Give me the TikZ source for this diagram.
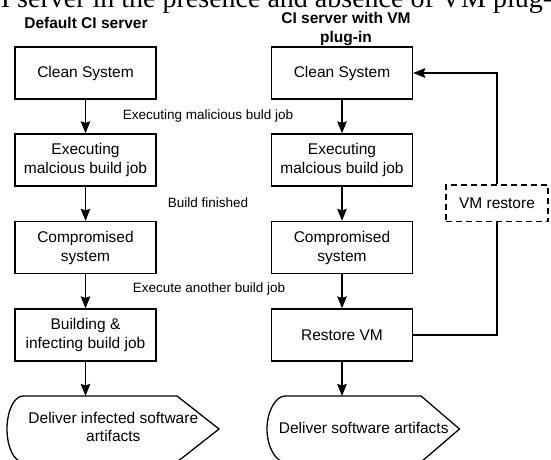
\documentclass[tikz,border=0pt]{standalone}
\usepackage{fontspec}
\setmainfont{Liberation Sans}
\newfontfamily\capfont{Liberation Serif}
\usetikzlibrary{arrows.meta}
\begin{document}
\begin{tikzpicture}[x=1pt,y=-1pt,
  wire/.style={line width=1.4pt},
  arr/.style={wire,-{Stealth[length=12pt,width=9.5pt,inset=1.5pt]}},
  box/.style={draw,line width=1.3pt,minimum width=141pt,minimum height=52pt,
    inner sep=0pt,align=center,font=\fontsize{15.5}{19}\selectfont},
  dbox/.style={box,dash pattern=on 6pt off 4pt,minimum width=102pt,minimum height=36.7pt},
  title/.style={inner sep=0pt,align=center,font=\fontsize{15.5}{19}\selectfont\bfseries},
  edgelabel/.style={inner sep=0pt,font=\fontsize{13.5}{16}\selectfont},
  deliver/.style={draw,line width=1.3pt},
  dtext/.style={inner sep=0pt,align=center,font=\fontsize{15.5}{18.5}\selectfont}]
\useasboundingbox (0,0) rectangle (551,460);
\fill[white] (0,0) rectangle (551,460);
\clip (0,0) rectangle (551,460);

% caption line running off the top edge
\node[anchor=base west,inner sep=0pt,font=\capfont\fontsize{28}{28}\selectfont]
  (cap) at (-18,8) {CI server in the presence and absence of VM plug-in};

% column titles
\node[title] (t1) at (86,22.7) {Default CI server};
\node[title] (t2) at (346,29) {CI server with VM\\plug-in};

% default CI server
\node[box] (l1) at (85.5,73) {Clean System};
\node[box] (l2) at (85.5,160) {Executing\\malcious build job};
\node[box] (l3) at (85.5,247.5) {Compromised\\system};
\node[box] (l4) at (85.5,335) {Building \&\\infecting build job};

% CI server with VM plug-in
\node[box] (r1) at (342,73) {Clean System};
\node[box] (r2) at (342,160) {Executing\\malcious build job};
\node[box] (r3) at (342,247.5) {Compromised\\system};
\node[box] (r4) at (342,335) {Restore VM};
\node[dbox] (vm) at (497,203.3) {VM restore};

% transition labels between the columns
\node[edgelabel] (e1) at (208,115.7) {Executing malicious buld job};
\node[edgelabel] (e2) at (208,202.3) {Build finished};
\node[edgelabel] (e3) at (209,289.3) {Execute another build job};

% display shapes for the delivered artifacts
\path[deliver] (23,396) .. controls (14.2,396) and (7,410.8) .. (7,429)
  .. controls (7,447.2) and (14.2,462) .. (23,462) -- (177,462) -- (219,429)
  -- (177,396) -- cycle;
\path[deliver] (285,396) .. controls (276,396) and (267,410.8) .. (267,429)
  .. controls (267,447.2) and (276,462) .. (285,462) -- (421,462) -- (459.5,429)
  -- (421,396) -- cycle;
\node[dtext] (d1) at (113.3,427) {Deliver infected software\\artifacts};
\node[dtext] (d2) at (363.7,427.7) {Deliver software artifacts};
\coordinate (d1top) at (85.5,396);
\coordinate (d2top) at (342,396);

% flow arrows
\draw[arr] (l1) -- (l2);
\draw[arr] (l2) -- (l3);
\draw[arr] (l3) -- (l4);
\draw[arr] (l4) -- (d1top);
\draw[arr] (r1) -- (r2);
\draw[arr] (r2) -- (r3);
\draw[arr] (r3) -- (r4);
\draw[arr] (r4) -- (d2top);

% restore loop
\draw[wire] (r4.east) -| (vm.south);
\draw[arr] (vm.north) |- (r1.east);
\end{tikzpicture}
\end{document}
